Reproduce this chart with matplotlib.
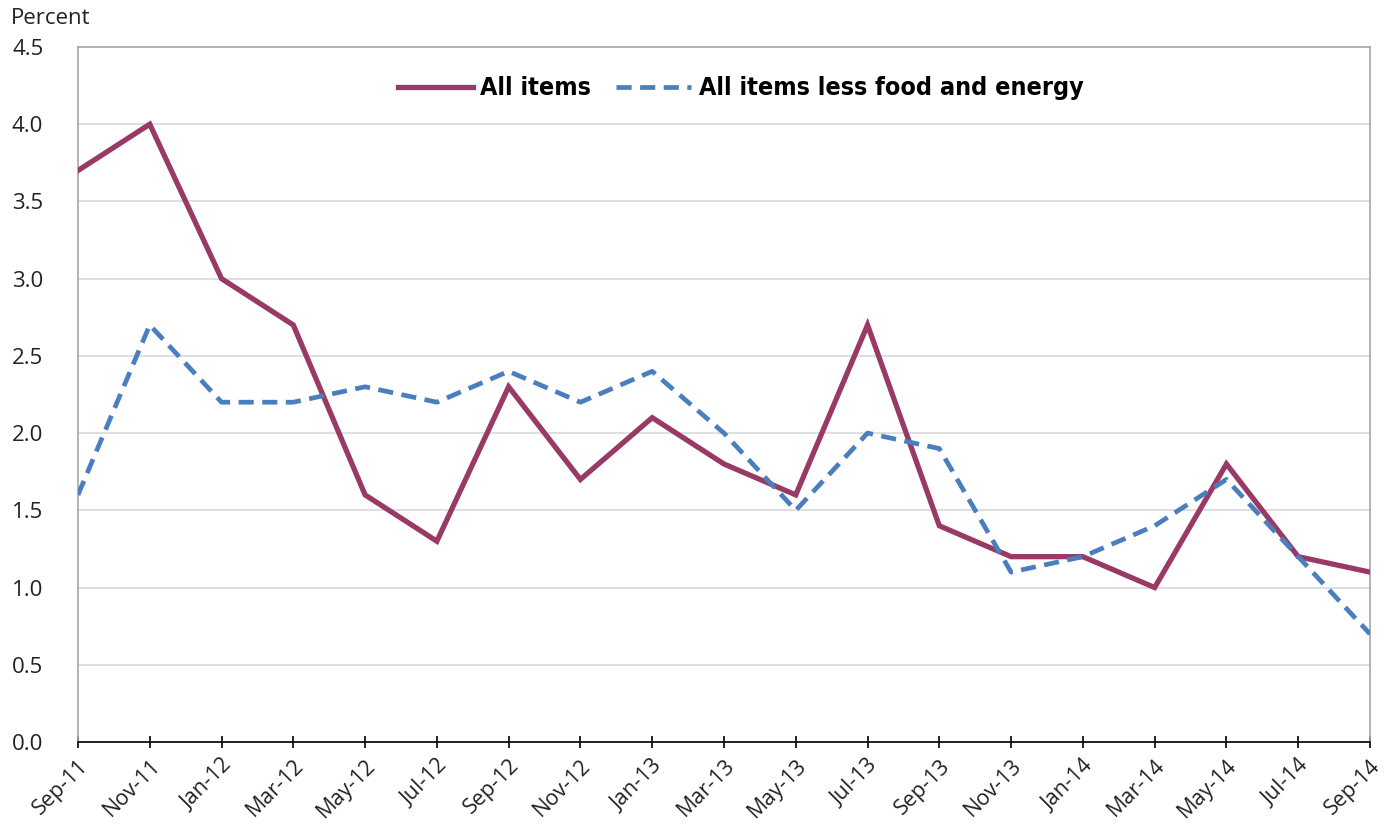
import numpy as np
import matplotlib; matplotlib.use("Agg")
import matplotlib.pyplot as plt

months = ["Sep-11", "Nov-11", "Jan-12", "Mar-12", "May-12", "Jul-12", "Sep-12", "Nov-12",
          "Jan-13", "Mar-13", "May-13", "Jul-13", "Sep-13", "Nov-13", "Jan-14", "Mar-14",
          "May-14", "Jul-14", "Sep-14"]
all_items = [3.7, 4.0, 3.0, 2.7, 1.6, 1.3, 2.3, 1.7, 2.1, 1.8, 1.6, 2.7, 1.4, 1.2, 1.2, 1.0, 1.8, 1.2, 1.1]
core      = [1.6, 2.7, 2.2, 2.2, 2.3, 2.2, 2.4, 2.2, 2.4, 2.0, 1.5, 2.0, 1.9, 1.1, 1.2, 1.4, 1.7, 1.2, 0.7]

plt.rcParams["font.family"] = ["Open Sans", "DejaVu Sans"]

fig = plt.figure(figsize=(13.9, 8.24), dpi=100)
ax = fig.add_axes([0.0561, 0.0995, 0.9295, 0.8435])
x = np.arange(len(months))

ax.plot(x, all_items, color="#993a66", lw=3.8, label="All items", solid_joinstyle="miter", zorder=3)
ax.plot(x, core, color="#4a7ebf", lw=3.4, ls=(0, (3.2, 1.8)), label="All items less food and energy", zorder=3)

ax.set_xlim(0, len(months) - 1)
ax.set_ylim(0, 4.5)
yt = np.arange(0, 4.51, 0.5)
ax.set_yticks(yt)
ax.set_yticklabels([f"{v:.1f}" for v in yt], fontsize=16, color="#222222")
ax.set_xticks(x)
ax.set_xticklabels(months, rotation=45, ha="right", rotation_mode="anchor", fontsize=15.5, color="#222222")
ax.grid(axis="y", color="#d9d9d9", lw=1.2)
ax.set_axisbelow(True)
for s in ["left", "top", "right"]:
    ax.spines[s].set_color("#a6a6a6"); ax.spines[s].set_linewidth(1.2)
ax.spines["bottom"].set_color("black"); ax.spines["bottom"].set_linewidth(1.2)
ax.tick_params(axis="y", length=0, pad=25)
ax.tick_params(axis="x", direction="inout", length=9, width=1.2, pad=5)

fig.text(0.008, 0.978, "Percent", fontsize=16, color="#222222", va="center", ha="left")

leg = ax.legend(loc="upper center", bbox_to_anchor=(0.513, 0.99), ncol=2, frameon=False,
                handlelength=3.0, columnspacing=1.0, handletextpad=0.3,
                prop={"family": ["DejaVu Sans"], "stretch": "condensed", "weight": "bold", "size": 18})

fig.savefig("out.png", dpi=100)
